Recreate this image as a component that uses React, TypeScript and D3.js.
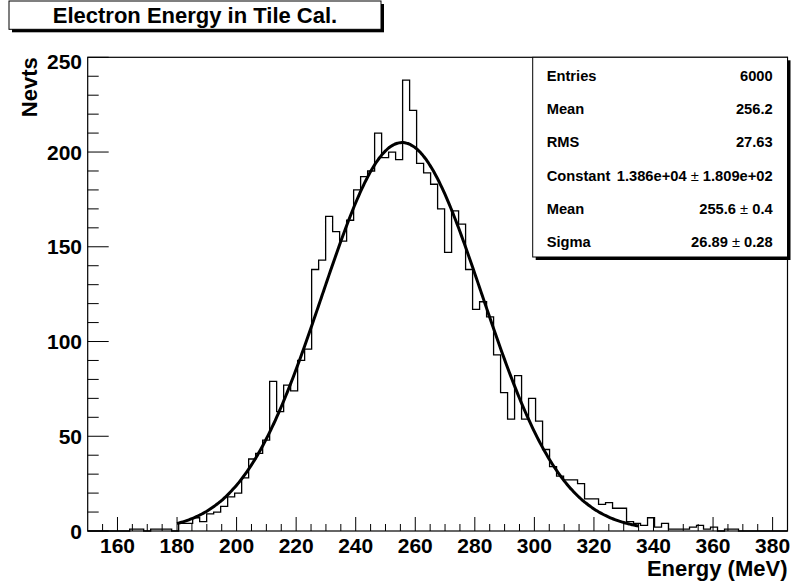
import * as d3 from "d3";

const WIDTH = 794;
const HEIGHT = 586;
const FRAME = { left: 87.7, right: 787.5, top: 57.3, bottom: 531 };
const FONT = "'Liberation Sans', Arial, Helvetica, sans-serif";

const X_MIN = 150;
const X_MAX = 385;
const Y_MAX = 250;

// counts per bin, 100 bins from 150 to 385 MeV
const binCounts = [
  0, 0, 0, 0, 0, 0, 1, 1, 0, 1,
  1, 1, 0, 4, 4, 7, 5, 9, 10, 13,
  18, 20, 28, 38, 41, 48, 79, 63, 77, 74,
  90, 96, 138, 143, 166, 158, 153, 164, 180, 187,
  190, 210, 197, 200, 196, 238, 222, 194, 189, 183,
  170, 147, 169, 162, 138, 117, 121, 113, 93, 73,
  59, 82, 59, 70, 58, 43, 34, 29, 27, 27,
  25, 17, 17, 14, 15, 12, 12, 5, 4, 3,
  7, 2, 4, 1, 1, 1, 2, 3, 1, 2,
  0, 1, 1, 0, 0, 0, 0, 0, 0, 0,
];

// gaussian fit
const FIT_PEAK = 205;
const FIT_MEAN = 255.6;
const FIT_SIGMA = 26.89;
const FIT_RANGE = [180, 335];

const xMajorTicks = [160, 180, 200, 220, 240, 260, 280, 300, 320, 340, 360, 380];
const yMajorTicks = [0, 50, 100, 150, 200, 250];

const TITLE = "Electron Energy in Tile Cal.";
const X_TITLE = "Energy (MeV)";
const Y_TITLE = "Nevts";

const statLabels = ["Entries", "Mean", "RMS", "Constant", "Mean", "Sigma"];
const statValues = ["6000", "256.2", "27.63", "1.386e+04", "255.6", "26.89"];
const statErrors = ["", "", "", "1.809e+02", "0.4", "0.28"];

export default function App() {
  const x = d3.scaleLinear().domain([X_MIN, X_MAX]).range([FRAME.left, FRAME.right]);
  const y = d3.scaleLinear().domain([0, Y_MAX]).range([FRAME.bottom, FRAME.top]);
  const binWidth = (X_MAX - X_MIN) / binCounts.length;

  // step outline of the histogram
  const steps: [number, number][] = [];
  binCounts.forEach((c, i) => {
    const lo = X_MIN + i * binWidth;
    steps.push([lo, c], [lo + binWidth, c]);
  });
  const line = d3.line<[number, number]>().x((d) => x(d[0])).y((d) => y(d[1]));
  const histPath = line(steps) ?? "";

  const fitPts: [number, number][] = d3
    .range(FIT_RANGE[0], FIT_RANGE[1] + 0.01, 0.5)
    .map((e) => [e, FIT_PEAK * Math.exp(-0.5 * ((e - FIT_MEAN) / FIT_SIGMA) ** 2)]);
  const fitPath = line.curve(d3.curveMonotoneX)(fitPts) ?? "";

  const xMinor = d3.range(155, X_MAX, 5).filter((v) => v % 20 !== 0 && v > X_MIN && v < X_MAX);
  const yMinor = d3.range(10, Y_MAX, 10).filter((v) => v % 50 !== 0);

  // stats box
  const box = { x0: 532.7, x1: FRAME.right, y0: FRAME.top, y1: 257 };
  const rowH = (box.y1 - box.y0) / statLabels.length;

  return (
    <div>
      <style>{`body{margin:0}`}</style>
      <svg width={WIDTH} height={HEIGHT} style={{ display: "block", background: "white" }} fontFamily={FONT} fontWeight="bold">
        {/* title box */}
        <rect x={12} y={4} width={372} height={28.3} fill="black" />
        <rect x={9} y={1} width={372} height={28.3} fill="white" stroke="black" strokeWidth={1} />
        <text x={195} y={22.7} textAnchor="middle" fontSize={22}>{TITLE}</text>

        {/* histogram */}
        <path d={histPath} fill="none" stroke="black" strokeWidth={1.3} />
        <path d={fitPath} fill="none" stroke="black" strokeWidth={3} />

        {/* frame */}
        <rect x={FRAME.left} y={FRAME.top} width={FRAME.right - FRAME.left} height={FRAME.bottom - FRAME.top} fill="none" stroke="black" strokeWidth={1.2} />

        {/* x axis */}
        {xMajorTicks.map((t) => (
          <g key={"xM" + t}>
            <line x1={x(t)} x2={x(t)} y1={FRAME.bottom} y2={FRAME.bottom - 14} stroke="black" />
            <text x={x(t)} y={552.5} textAnchor="middle" fontSize={21}>{t}</text>
          </g>
        ))}
        {xMinor.map((t) => (
          <line key={"xm" + t} x1={x(t)} x2={x(t)} y1={FRAME.bottom} y2={FRAME.bottom - 7} stroke="black" />
        ))}
        <text x={FRAME.right} y={576} textAnchor="end" fontSize={22}>{X_TITLE}</text>

        {/* y axis */}
        {yMajorTicks.map((t) => (
          <g key={"yM" + t}>
            <line x1={FRAME.left} x2={FRAME.left + 21} y1={y(t)} y2={y(t)} stroke="black" />
            <text x={82} y={y(t) + (t === Y_MAX ? 4 : 0)} dy="0.36em" textAnchor="end" fontSize={21}>{t}</text>
          </g>
        ))}
        {yMinor.map((t) => (
          <line key={"ym" + t} x1={FRAME.left} x2={FRAME.left + 11} y1={y(t)} y2={y(t)} stroke="black" />
        ))}
        <text transform={`translate(36.5,${FRAME.top}) rotate(-90)`} textAnchor="end" fontSize={22}>{Y_TITLE}</text>

        {/* stats box */}
        <rect x={box.x0 + 3} y={box.y0 + 3} width={box.x1 - box.x0} height={box.y1 - box.y0} fill="black" />
        <rect x={box.x0} y={box.y0} width={box.x1 - box.x0} height={box.y1 - box.y0} fill="white" stroke="black" strokeWidth={1} />
        {statLabels.map((lab, i) => {
          const cy = box.y0 + rowH * (i + 0.5) + 1.5;
          return (
            <g key={"st" + i} fontSize={14.7}>
              <text x={546.7} y={cy} dy="0.36em">{lab}</text>
              <text x={772.7} y={cy} dy="0.36em" textAnchor="end">
                {statValues[i]}
                {statErrors[i] && <tspan fontWeight="normal">{" \u00b1 "}</tspan>}
                {statErrors[i]}
              </text>
            </g>
          );
        })}
      </svg>
    </div>
  );
}
